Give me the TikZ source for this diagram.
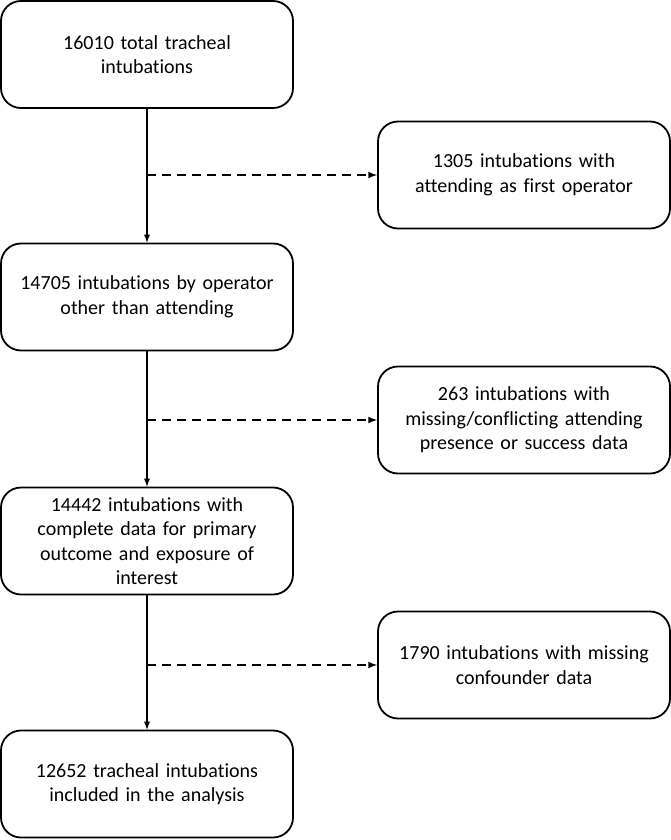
\documentclass[tikz,border=0pt]{standalone}
\usepackage{fontspec}
\setmainfont{Carlito}[Ligatures={NoCommon}]
\usetikzlibrary{arrows,shapes,positioning}

\begin{document}
\begin{tikzpicture}[x=1pt,y=-1pt,
  box/.style={draw,rounded corners=20pt,minimum width=292pt,minimum height=107pt,
    text width=275pt,align=center,font=\fontsize{20}{24.5}\selectfont,line width=1.8pt},
  flow/.style={-latex,line width=1.7pt},
  excl/.style={-latex,line width=2pt,dash pattern=on 9pt off 6pt}]
\useasboundingbox (0,0) rectangle (671,840);

% Main flow
\node[box] (total) at (147,54.5) {16010 total tracheal\\intubations};
\node[box] (other) at (147,297) {14705 intubations by operator\\other than attending};
\node[box] (complete) at (147,541) {14442 intubations with\\complete data for primary\\outcome and exposure of\\interest};
\node[box] (final) at (147,784) {12652 tracheal intubations\\included in the analysis};

% Exclusions
\node[box] (attend) at (524,175) {1305 intubations with\\attending as first operator};
\node[box] (missing) at (524,420) {263 intubations with\\missing/conflicting attending\\presence or success data};
\node[box] (confound) at (524,665) {1790 intubations with missing\\confounder data};

\draw[flow] (total) -- (other);
\draw[flow] (other) -- (complete);
\draw[flow] (complete) -- (final);

\coordinate (s1) at (147,175);
\coordinate (s2) at (147,420);
\coordinate (s3) at (147,665);
\draw[excl] (s1) -- (attend);
\draw[excl] (s2) -- (missing);
\draw[excl] (s3) -- (confound);
\end{tikzpicture}
\end{document}
